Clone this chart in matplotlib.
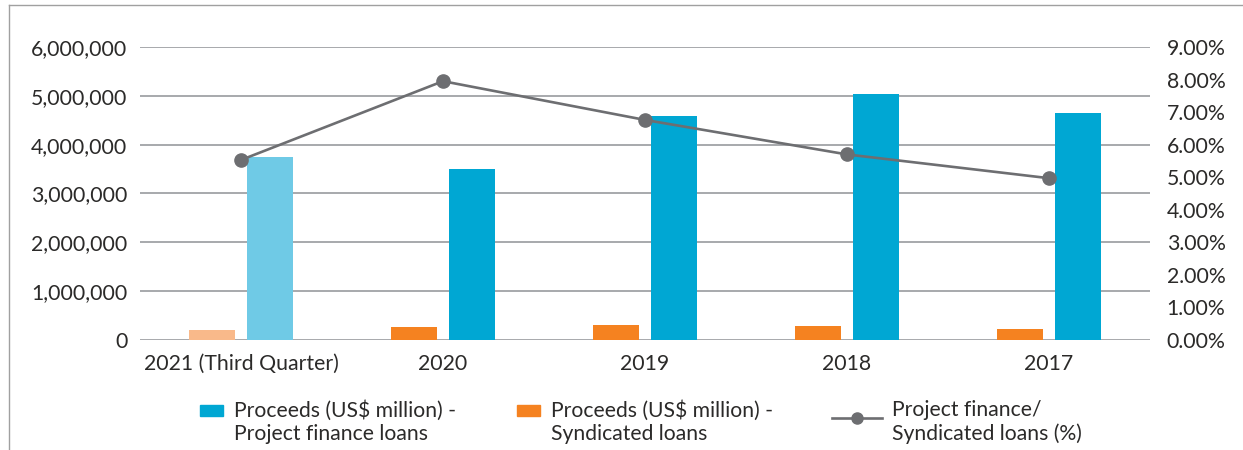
import numpy as np
import matplotlib
matplotlib.use("Agg")
import matplotlib.pyplot as plt
from matplotlib.lines import Line2D
from matplotlib.patches import Patch
from matplotlib.legend_handler import HandlerBase, HandlerPatch, HandlerLine2D
from matplotlib.ticker import FuncFormatter

plt.rcParams['font.family'] = ['Lato', 'DejaVu Sans']

# data
years = ['2021 (Third Quarter)', '2020', '2019', '2018', '2017']
project_finance = [3750000, 3500000, 4580000, 5030000, 4650000]
syndicated = [205000, 265000, 305000, 280000, 225000]
share_pct = [5.53, 7.95, 6.76, 5.70, 4.97]

text_col = '#2b2a29'
blue = '#00a7d3'
blue_light = '#6fcae6'
orange = '#f58220'
orange_light = '#f9b98a'
grey = '#6d6e71'


class RaisedHandler(HandlerBase):
    """wrap a handler and lift its artist up to the first text line"""
    def __init__(self, inner, shift):
        super().__init__()
        self.inner = inner
        self.shift = shift

    def create_artists(self, legend, orig_handle, xdescent, ydescent,
                       width, height, fontsize, trans):
        return self.inner.create_artists(legend, orig_handle, xdescent,
                                         ydescent - self.shift * fontsize,
                                         width, height, fontsize, trans)


fig = plt.figure(figsize=(12.43, 4.5), dpi=100)
ax = fig.add_axes([140 / 1243, 110 / 450, 1010 / 1243, 293 / 450])
ax2 = ax.twinx()

x = np.arange(len(years))
w = 0.228
ax.bar(x - 0.144, syndicated, w, color=[orange_light] + [orange] * 4, zorder=3)
ax.bar(x + 0.144, project_finance, w, color=[blue_light] + [blue] * 4, zorder=3)
ax2.plot(x, share_pct, color=grey, lw=1.9, marker='o', ms=9.5, zorder=4)

ax.set_xlim(-0.5, len(years) - 0.5)
ax.set_ylim(0, 6000000)
ax.set_yticks(np.arange(0, 6000001, 1000000))
ax.yaxis.set_major_formatter(FuncFormatter(lambda v, p: f'{int(v):,}'))
ax2.set_ylim(0, 9)
ax2.set_yticks(np.arange(0, 10, 1))
ax2.yaxis.set_major_formatter(FuncFormatter(lambda v, p: f'{v:.2f}%'))

ax.grid(axis='y', color='#a7a9ac', lw=1.4, zorder=0)
ax.set_axisbelow(True)
ax.set_xticks(x)
ax.set_xticklabels(years)
for a in (ax, ax2):
    for s in a.spines.values():
        s.set_visible(False)
ax.tick_params(axis='y', length=0, pad=9, labelsize=15.3, labelcolor=text_col)
ax.tick_params(axis='x', length=0, pad=10, labelsize=15.3, labelcolor=text_col)
ax2.tick_params(axis='y', length=0, pad=12, labelsize=15.3, labelcolor=text_col)

# legend: one block per entry so each handle can have its own width
entries = [
    (Patch(color=blue), 'Proceeds (US$ million) -\nProject finance loans', 200, 1.1, HandlerPatch()),
    (Patch(color=orange), 'Proceeds (US$ million) -\nSyndicated loans', 517, 1.1, HandlerPatch()),
    (Line2D([], [], color=grey, lw=1.9, marker='o', ms=8),
     'Project finance/\nSyndicated loans (%)', 832, 2.35, HandlerLine2D()),
]
for h, lab, xpos, hl, hnd in entries:
    fig.legend([h], [lab], loc='upper left', bbox_to_anchor=(xpos / 1243, 1 - 400 / 450),
               frameon=False, fontsize=15.2, labelcolor=text_col,
               handlelength=hl, handleheight=0.45, handletextpad=0.5,
               borderaxespad=0, borderpad=0,
               handler_map={type(h): RaisedHandler(hnd, 0.55)})

# thin frame on the left and top
fig.add_artist(Line2D([9 / 1243, 9 / 1243], [0, 1 - 5 / 450], color='#a0a0a0', lw=1))
fig.add_artist(Line2D([9 / 1243, 1], [1 - 5 / 450, 1 - 5 / 450], color='#a0a0a0', lw=1))

fig.savefig('out.png', dpi=100)
